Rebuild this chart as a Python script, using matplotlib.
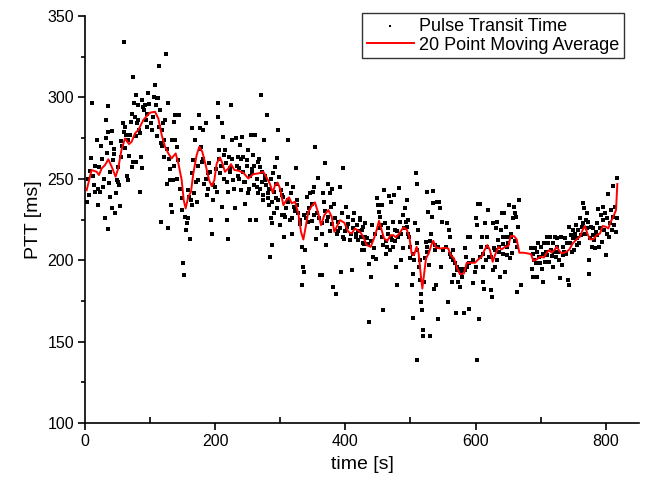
import matplotlib
matplotlib.use("Agg")
import matplotlib.pyplot as plt
from matplotlib.ticker import MultipleLocator

plt.rcParams['font.family'] = ['Liberation Sans', 'DejaVu Sans']

# ---- scatter data: (time [s], PTT [ms]) ----
pt_time = [
    2.6, 9, 11, 14, 15, 18, 19.5, 21.5, 23, 24.6, 28, 31, 32, 33, 35, 36, 36, 37, 38.4, 40,
    41, 42, 43.5, 45, 46, 47, 48.6, 50, 51, 54, 55, 56, 59, 60, 60, 61.4, 63, 64, 65.5, 66.5,
    69, 70.7, 71.7, 73, 74, 75.8, 76.8, 77.8, 79, 81, 82, 83, 84.5, 86, 87, 88, 89.6, 92, 94.7, 97,
    102.4, 107.5, 108.5, 110, 112.6, 113.7, 115, 116.7, 118.8, 120.3, 122, 123, 124.4, 125.4, 116.7, 127, 128, 130.5, 132, 133,
    134, 135.7, 137, 138, 139, 140.8, 142, 145, 143.4, 148.5, 151, 152.6, 153.6, 155, 156, 157.7, 159.7, 161, 162.8, 163.8,
    164.9, 166.4, 168, 169, 171.5, 173, 175, 176.6, 178, 180.2, 181.8, 183.3, 185.4, 187, 188.4, 190.5, 193.5, 195.6, 197, 199.7,
    202.3, 203.8, 204.8, 205.8, 207.4, 210, 211, 212.5, 214, 215, 217.6, 219, 220.2, 221.2, 222.7, 224.3, 225.3, 227.8, 230.4, 231.4,
    234.5, 236.6, 238, 239.6, 241.7, 243.2, 244.7, 245.8, 248.3, 250, 250.9, 253.5, 255, 257, 258.6, 261, 262, 263.7, 265.2, 266.3,
    268.8, 270.3, 271.4, 274, 275.5, 276.5, 279.6, 280.6, 282.6, 284.2, 285.7, 286.7, 287.8, 289.3, 290.8, 291.9, 292.9, 294.4, 296, 297,
    298.5, 299.5, 301, 302, 304.7, 306, 307, 309.8, 311.3, 312.3, 315, 316.4, 318.5, 320, 321.5, 323.6, 325, 327.7, 330, 332.8,
    333.8, 335.4, 337, 338, 340.5, 342, 343, 345.6, 348.2, 350.7, 352.3, 353.3, 354.3, 355.9, 358.4, 361, 363.5, 364.6, 366, 367.6,
    368.7, 369.7, 372.8, 373.8, 376.3, 377.9, 378.9, 381.5, 383, 385, 386.6, 389, 391.7, 393.2, 394.3, 396.8, 398.4, 400.4, 402, 404.5,
    407, 409.6, 412.2, 413.7, 415.8, 417.3, 419.9, 422.4, 425, 427.5,
    302, 305, 308, 312, 318, 322, 326, 330, 336, 340, 344, 348, 352, 356, 360, 364, 368, 372, 376, 380,
    384, 388, 392, 396, 400, 404, 408, 412, 416, 420, 424, 428,
    422.4, 425, 426.5, 428.5, 430, 433.7, 436.7, 436.7, 438.8, 440.3, 441.9, 443.9, 445.4, 447, 449, 450.6, 452, 453.1, 454.1, 455.7,
    457.2, 458.2, 459.3, 460.8, 462.3, 463.4, 465.9, 467.5, 468.5, 469.5, 471, 472.6, 473.6, 475.1, 476.2, 477.7, 479.7, 481.3, 482.8, 483.8,
    485.4, 487.9, 489, 491.5, 493, 494.1, 495.1, 496.6, 498.2, 499.2, 501.8, 503.3, 504.3, 505.3, 506.9, 508.4, 509.4, 510.5, 512, 513.5,
    514.6, 515.6, 516.6, 517.6, 518.7, 519.7, 509.4, 520.7, 522.2, 523.8, 524.8, 525.8, 527.4, 528.9, 529.9, 531, 532.5, 534, 534, 536.1,
    537.6, 539.1, 541.2, 542.7, 544.3, 545.3, 546.3, 547.8, 556.6, 558.1, 559.6, 560.6, 561.7, 563.2, 564.7, 566.8, 568.3, 569.9, 570.9, 573.4,
    575, 576, 578.6, 581.1, 582.2, 583.7, 585.2, 586.3, 588.8, 590.3, 591.4, 596.5, 599, 600.6, 601.6, 602.7, 604.2, 605.7, 606.8, 608.3,
    609.3, 610.8, 611.9, 612.9, 614.4, 616, 618, 619.5, 621.1, 623.1, 624.7, 626.2, 627.2, 628.3, 629.8, 631.3, 632.4, 633.4, 634.9, 636.4,
    637.5, 638.5, 640, 641.5, 642.6, 643.6, 645.1, 646.6, 647.7, 648.7, 650.2, 651.8, 652.8, 653.8, 655.4, 657.9, 659, 660.5, 662, 663.1,
    664.1, 665.6, 667.2, 669.2,
    430, 434, 440, 446, 452, 456, 462, 466, 470, 476, 480, 486, 490, 496, 500, 504, 510, 514, 526, 530,
    538, 542, 550, 554, 560, 566, 572, 578, 584, 590, 596, 600, 606, 612, 618, 624, 630, 636, 642, 648,
    654, 660,
    684.6, 686.1, 687.7, 688.7, 689.7, 691.2, 692.8, 693.8, 694.8, 696.3, 697.9, 698.9, 699.9, 701.4, 703, 704, 705.1, 706.6, 708.1, 709.1,
    710.2, 711.7, 713.2, 714.2, 715.3, 716.8, 718.3, 719.4, 720.4, 721.9, 723.5, 724.5, 725.5, 727, 728.6, 729.6, 730.6, 732.2, 733.7, 734.8,
    735.8, 737.3, 738.9, 739.9, 742.4, 744, 744, 745, 746, 747.5, 749.1, 750.1, 751.1, 752.6, 754.2, 755.2, 756.2, 757.8, 759.3, 760.3,
    761.4, 762.9, 764.4, 765.5, 766.5, 768, 769.6, 770.6, 771.6, 773.1, 774.7, 774.7, 775.7, 777.2, 778.3, 779.8, 780.8, 782.4, 783.4, 785,
    786, 787, 788.5, 790.1, 791.1, 792.1, 793.7, 795.2, 796.2, 797.2, 798.8, 800.3, 801.3, 802.4, 803.9, 805.4, 806.4, 807.5, 809, 810.5,
    811.5, 812.6, 814.1, 815.7, 816.7, 817.7,
    4, 6, 8, 12, 16, 20, 26, 29, 34, 39, 44, 52, 57, 62, 68, 72, 78, 80, 85, 90,
    93, 96, 99, 101, 104, 106, 111, 114, 119, 121, 126, 129, 131, 136, 141, 146, 149, 158, 165, 170,
    174, 177, 182, 186, 189, 192, 196, 201, 206, 209, 213, 216, 218, 223, 226, 229, 233, 235, 237, 240,
    242, 246, 249, 252, 254, 256, 259, 260, 264, 267, 269, 272, 273, 277, 278, 281, 283, 286, 288, 290,
    293, 295,
]
pt_ptt = [
    236, 262.5, 296.4, 246, 242, 273.8, 234, 257, 242, 270, 245, 226, 286, 275, 295, 279, 219, 247.5, 239, 272,
    232, 279.5, 261.5, 265, 229, 241, 249, 248, 257, 233, 273, 263.5, 284, 279, 334, 268.7, 277, 252, 273.8, 249,
    277, 285, 257, 312.7, 260.5, 296.7, 288, 260.5, 301.4, 286, 295.3, 280, 242, 263.5, 256.4, 298.4, 294.3, 295.3, 282, 302.5,
    280, 307.6, 295.3, 299.4, 299.4, 319.3, 292.2, 271.7, 280, 284, 263.5, 286, 326.6, 247.1, 223.6, 219.5, 296.3, 249.2, 233.8, 229.7,
    273.8, 249.2, 285, 289.2, 273.8, 269.7, 289.2, 289.2, 261.5, 230.8, 198.4, 190.8, 226.7, 218.5, 222.6, 243, 239, 213.3, 237, 281,
    253.3, 261.5, 241, 273.8, 236, 249.2, 289.2, 281, 269.7, 260.5, 280, 247, 284, 240, 253.3, 259.5, 224.6, 216.4, 237, 245,
    242, 288, 296.4, 267.6, 253.3, 284.4, 232.8, 275.8, 264.6, 267.6, 224.6, 213.3, 242, 263.5, 256.4, 295.3, 273.8, 249.2, 231.8, 274.8,
    263.5, 256.4, 270.7, 243, 275.8, 263.5, 248.2, 234.8, 261.5, 267.6, 241, 224.6, 276.8, 254.3, 264.6, 276.8, 224.6, 245, 260.5, 241,
    257.4, 301.4, 248.2, 237, 273.8, 249.2, 289.2, 241, 233.8, 202.1, 225.7, 209.3, 222.6, 253.3, 228.7, 257.4, 247.1, 262.5, 280, 237,
    251.2, 221.5, 243, 227.7, 239, 214.4, 226.7, 247.1, 273.8, 237, 224.6, 241, 216.4, 245, 232.8, 256.4, 237, 228.7, 224.6, 184.6,
    208.2, 196, 192.9, 206.2, 239, 223.6, 228.7, 241, 234.8, 242, 245, 269.7, 213.3, 228.7, 250.2, 190.8, 190.8, 222.6, 241, 236,
    259.5, 209.3, 247.1, 226.7, 241, 232.8, 244, 183.6, 234.8, 179.5, 216.4, 223.6, 245, 192.9, 228.7, 256.4, 213.3, 232.8, 220.5, 226.7,
    212.3, 193.9, 224.6, 228.7, 216.4, 221.5, 212.3, 224.6, 206.2, 220.5,
    240, 228, 232, 236, 226, 230, 234, 222, 228, 226, 232, 224, 228, 220, 226, 216, 230, 224, 218, 222,
    226, 218, 220, 214, 218, 222, 216, 220, 214, 218, 214, 210,
    225.7, 218.5, 210.3, 206.2, 222.6, 213.4, 162.1, 197.6, 189.8, 221.6, 202.1, 207.2, 216.4, 201, 238, 233.9, 229.8, 226.7, 221.6, 233.9,
    169.3, 209.3, 243.1, 222.6, 204.1, 208.2, 219.5, 239.4, 206.2, 235.9, 212.3, 208.2, 223.6, 240, 218.5, 195.9, 184.7, 214.4, 244.1, 223.6,
    200, 227.7, 207.6, 231.8, 223.6, 220.5, 236.9, 224.6, 214.4, 201.1, 184.7, 191.8, 164.6, 200, 222.6, 253.7, 246.8, 210.3, 218.5, 195.9,
    187.8, 174.4, 179.1, 169.7, 157.4, 153.5, 138.6, 186.7, 201.1, 211.3, 242, 205.2, 229.8, 197, 153.5, 216.4, 226.7, 242.7, 234.9, 182.6,
    209.3, 184.7, 235.9, 163.6, 235.9, 231.8, 195.9, 223.6, 222.6, 174.4, 218.5, 214.4, 202.1, 186.7, 206.2, 190.8, 198, 167.3, 193.9, 186.7,
    194.9, 183.6, 189.8, 194.9, 167.3, 207.2, 202.1, 195.9, 214.4, 170.3, 214.4, 185.7, 192.9, 225.7, 138.6, 221.6, 234.5, 163.6, 234.5, 208.2,
    214.4, 186.7, 195.9, 182.6, 222.6, 200, 214.4, 230.8, 202.1, 181.6, 177.5, 193.9, 222.6, 207.2, 195.9, 219.5, 223.6, 200, 212.3, 205.2,
    189.8, 218.5, 228.7, 204.1, 214.4, 228.7, 192.9, 220.5, 203.1, 214.4, 210.3, 233.9, 201.1, 216.4, 204.2, 225.7, 232.8, 228.7, 226.7, 208.2,
    180.6, 220.5, 236.9, 184.7,
    214, 210, 212, 216, 220, 214, 212, 216, 214, 212, 218, 216, 220, 216, 208, 204, 206, 200, 208, 212,
    206, 208, 206, 208, 204, 200, 196, 192, 194, 198, 200, 196, 202, 204, 208, 202, 206, 208, 210, 208,
    214, 212,
    207.2, 194.9, 204.1, 189.8, 200, 207.2, 198, 205.2, 189.8, 210.3, 202.1, 198, 208.2, 194.9, 204.1, 186.7, 210.3, 199, 205.2, 214.4,
    203.1, 210.3, 199, 214.4, 206.2, 202.5, 210.3, 196, 205.2, 214.4, 202.1, 208.2, 213.4, 205.2, 200, 188.8, 214.4, 197, 208.2, 203.1,
    205.2, 213.4, 204.1, 210.3, 187.8, 184.7, 220.5, 210.3, 215.4, 205.2, 213.4, 218.5, 206.2, 216.4, 221.6, 209.3, 213.4, 218.5, 210.3, 225.7,
    215.4, 220.5, 234.9, 222.6, 231.8, 216.4, 224.6, 219.5, 228.7, 223.6, 200, 191.8, 213.4, 220.5, 208.2, 215.4, 219.5, 212.3, 207.2, 217.5,
    222.6, 215.4, 231.2, 208.2, 219.5, 227.7, 211.3, 232.8, 224.6, 218.5, 228.7, 203.1, 216.4, 225.7, 240.6, 214.4, 222.6, 230.8, 218.5, 226.7,
    245.5, 221.6, 232.8, 217.5, 250.2, 225.7,
    250, 240, 255, 252, 258, 244, 262, 250, 266, 254, 268, 246, 270, 282, 264, 290, 276, 284, 278, 292,
    286, 290, 296, 284, 288, 300, 276, 282, 270, 274, 268, 262, 256, 258, 250, 244, 238, 226, 234, 248,
    258, 268, 262, 250, 244, 254, 246, 256, 262, 258, 250, 260, 248, 254, 262, 244, 258, 252, 250, 262,
    254, 248, 258, 244, 252, 256, 246, 258, 250, 262, 244, 254, 240, 252, 246, 238, 244, 250, 236, 242,
    238, 232,
]

# ---- 20 point moving average ----
ma_time = [
    2.6, 10, 18, 21.5, 25.6, 30.7, 35.8, 41, 47, 51, 56, 61.4, 67.6, 71.7, 76.8, 82, 89.6, 94.7, 99.8, 107.5,
    112.6, 117.8, 122.9, 128, 133, 139.3, 143.4, 148.5, 151.6, 154.6, 158.7, 162.8, 166.4, 171.5, 175.6, 180.2, 185.4, 190.5, 194.6, 198.7,
    202.3, 207.4, 211, 215, 220.2, 224.3, 229.4, 235.5, 243.2, 250.9, 258.6, 266.3, 273.9, 279, 284.2, 288.3, 291.9, 296, 299.5, 304.7,
    309.8, 313.4, 317.5, 322.6, 327.7, 331.8, 335.4, 339, 343, 348.2, 353.3, 358.4, 362.5, 367.6, 373.8, 378.9, 383, 386.6, 391.7, 398.4,
    404.5, 409.6, 414.7, 422.4, 427.5, 432.6, 438.8, 443.9, 448, 451.6, 455.7, 459.3, 464.4, 469.5, 473.6, 477.7, 482.8, 489, 494.1, 498.2,
    501.8, 505.3, 509.4, 512.5, 515.6, 518.2, 520.7, 523.8, 527.9, 532, 535, 539.1, 545.3, 553, 558.1, 561.7, 566.8, 571.9, 576, 582.2,
    586.3, 592.4, 599, 604.2, 609.3, 612.9, 618, 622.1, 626.2, 629.8, 634.9, 640, 645.1, 650.3, 653.8, 659, 663.1, 667.2, 673.3, 681,
    685.1, 688.7, 693.8, 698.9, 705.1, 709.1, 713.2, 716.8, 720.9, 724.5, 728.6, 732.2, 739.9, 744, 749.1, 755.2, 760.3, 764.4, 768, 771.6,
    775.7, 780.8, 786, 791.1, 795.2, 800.3, 803.9, 807.5, 811.5, 815.7, 817.7,
]
ma_ptt = [
    243, 255.4, 254.3, 252.3, 256.4, 258.4, 262, 257.4, 251.3, 256.4, 267.6, 274.8, 271.3, 272.8, 277.9, 280, 286.1, 288.5, 290.6, 291.2,
    287.1, 276.9, 269.7, 265.6, 262.5, 265.6, 259.5, 249.2, 237, 231.8, 239, 242, 253.3, 264.6, 269.7, 266.6, 258.4, 249.2, 245.5, 249.2,
    259.5, 263.1, 259.5, 254.3, 256.4, 259, 255.4, 255, 253.7, 250.2, 252.9, 253.3, 254.3, 250.8, 246.7, 241.4, 246.1, 247.6, 244.1, 233.8,
    237.3, 238.6, 234.9, 235.9, 228.7, 217.4, 212.7, 220.5, 229.7, 233.2, 235.5, 228.7, 221.5, 227.7, 230.8, 226.7, 217.4, 220.5, 224.6, 223,
    217.4, 216.4, 219.5, 217.4, 214.4, 209.3, 208.2, 213.4, 218.5, 224.2, 218.5, 213.4, 211.9, 215.4, 215.4, 214, 216.4, 220.1, 218.9, 214.4,
    204.1, 203.1, 208.2, 204.1, 191.8, 182.6, 190.8, 201.1, 204.1, 209.3, 211.9, 207.8, 207.2, 207.6, 207.2, 203.1, 201.1, 194.9, 191.4, 191.9,
    198.4, 198.4, 198.4, 200.5, 202.1, 205.6, 209.3, 206.2, 199, 203.1, 208.2, 206.6, 208.2, 208.7, 214.8, 214.8, 212.8, 204.6, 204.6, 204.1,
    203.7, 199.6, 200.5, 202.1, 201.7, 204.6, 206.2, 204.6, 206.2, 208.2, 205.8, 204.1, 205.2, 206.6, 210.3, 212.8, 214.4, 218.5, 221, 216.4,
    212.8, 212.8, 215.4, 216.4, 221, 220.5, 219.5, 223.6, 226.7, 230.8, 246.8,
]

W, H = 647, 486
fig = plt.figure(figsize=(W / 100, H / 100), dpi=100)
ax = fig.add_axes([85 / W, (H - 423) / H, (639 - 85) / W, (423 - 16) / H])

ax.scatter(pt_time, pt_ptt, s=5, marker='s', color='black', linewidths=0,
           label='Pulse Transit Time', zorder=2)
ax.plot(ma_time, ma_ptt, color='#ff0000', lw=1.4, label='20 Point Moving Average', zorder=3)

ax.set_xlim(0, 851)
ax.set_ylim(100, 350)
ax.xaxis.set_major_locator(MultipleLocator(200))
ax.xaxis.set_minor_locator(MultipleLocator(100))
ax.yaxis.set_major_locator(MultipleLocator(50))
ax.yaxis.set_minor_locator(MultipleLocator(25))

for s in ['top', 'right']:
    ax.spines[s].set_visible(False)
for s in ['left', 'bottom']:
    ax.spines[s].set_linewidth(1.2)

ax.tick_params(which='major', direction='out', length=5, width=1.2, labelsize=11.5, pad=3)
ax.tick_params(axis='x', which='minor', direction='in', length=4, width=1.2)
ax.tick_params(axis='y', which='minor', direction='out', length=3, width=1.2)

ax.set_xlabel('time [s]', fontsize=14, labelpad=5)
ax.set_ylabel('PTT [ms]', fontsize=14, labelpad=4)

leg = ax.legend(loc='upper right', bbox_to_anchor=(624 / W, (H - 13) / H),
                bbox_transform=fig.transFigure, borderaxespad=0, frameon=True,
                fancybox=False, fontsize=13, markerscale=0.45, handlelength=2.6,
                handletextpad=0.3, borderpad=0.25, labelspacing=0.12)
leg.get_frame().set_edgecolor('black')
leg.get_frame().set_linewidth(1.0)

fig.savefig('out.png', dpi=100)
